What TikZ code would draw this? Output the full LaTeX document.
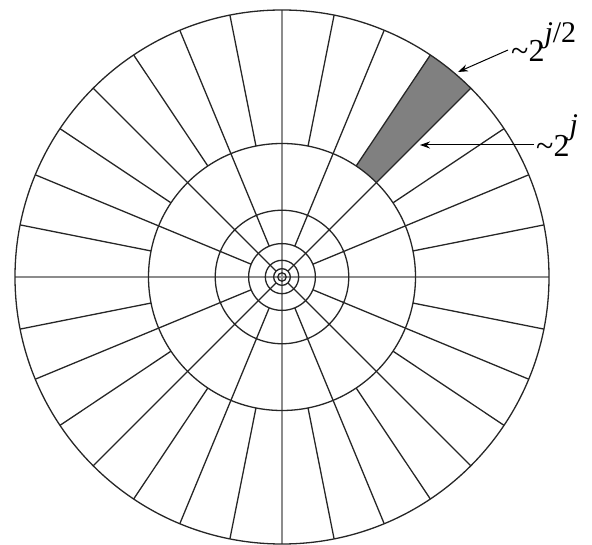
\documentclass[tikz,border=0pt]{standalone}
\usepackage{fontspec}
\setmainfont{Liberation Serif}
\newfontfamily\lblfont{Liberation Serif}
\usetikzlibrary{arrows.meta}
\begin{document}
\begin{tikzpicture}[x=1pt,y=1pt,
  tile/.style={line width=1.3pt, draw=black!85},
  axisline/.style={line width=1.6pt, draw=black!45},
  ptr/.style={line width=1pt, draw=black, -{Stealth[length=10pt,width=7pt]}},
  lbl/.style={inner sep=0pt, anchor=base west, font=\lblfont\fontsize{32}{34}\selectfont}]
\useasboundingbox (0,0) rectangle (592,544);
\coordinate (c) at (282,267);
% shaded wedge
\fill[black!50] ([shift={(45:133.5)}]c) -- ([shift={(45:267)}]c)
  arc[start angle=45,end angle=56.25,radius=267]
  -- ([shift={(56.25:133.5)}]c)
  arc[start angle=56.25,end angle=45,radius=133.5] -- cycle;
% axes
\draw[axisline] ([shift={(180:267)}]c) -- ([shift={(0:267)}]c);
\draw[axisline] ([shift={(90:267)}]c) -- ([shift={(270:267)}]c);
% rings
\foreach \r in {267,133.5,66.75,33.4,16.7,8.35,4.2}
  \draw[tile] (c) circle[radius=\r];
% outer ring wedges (32)
\foreach \k in {0,...,15} {
  \pgfmathsetmacro{\a}{11.25+22.5*\k}
  \draw[tile] ([shift={(\a:133.5)}]c) -- ([shift={(\a:267)}]c);
}
% 16 wedges
\foreach \k in {0,...,7} {
  \pgfmathsetmacro{\a}{22.5+45*\k}
  \draw[tile] ([shift={(\a:33.4)}]c) -- ([shift={(\a:267)}]c);
}
% 8 wedges
\foreach \k in {0,...,3} {
  \pgfmathsetmacro{\a}{45+90*\k}
  \draw[tile] ([shift={(\a:8.35)}]c) -- ([shift={(\a:267)}]c);
}
% labels
\node[lbl] (l1) at (511,482) {\textasciitilde 2\raisebox{19pt}{\fontsize{30}{30}\selectfont\itshape j\/\upshape/2}};
\node[lbl] (l2) at (536,387) {\textasciitilde 2\raisebox{22pt}{\fontsize{30}{30}\selectfont\itshape j}};
\coordinate (t1) at (508,494);
\coordinate (h1) at (458,472);
\coordinate (t2) at (534,399);
\coordinate (h2) at (420,399);
\draw[ptr] (t1) -- (h1);
\draw[ptr] (t2) -- (h2);
\end{tikzpicture}
\end{document}
